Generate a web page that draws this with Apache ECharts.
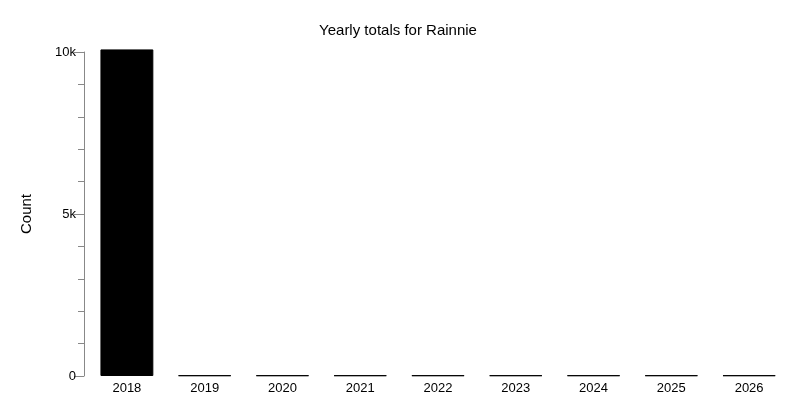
<!DOCTYPE html><html><head><meta charset="utf-8"><script src="https://cdn.jsdelivr.net/npm/echarts@6/dist/echarts.min.js"></script></head><body style="margin:0"><div id="c" style="width:796px;height:418px"></div><script>
const categories=['2018','2019','2020','2021','2022','2023','2024','2025','2026'];
const counts=[10080,20,20,20,20,20,20,20,20];
const yTicks=[0,5000,10000];
const chart=echarts.init(document.getElementById('c'));
chart.setOption({
 animation:false,
 title:{text:'Yearly totals for Rainnie',left:'center',top:18,textStyle:{fontFamily:'Liberation Sans',fontWeight:'normal',fontSize:15,color:'#000'}},
 grid:{left:88,right:8,top:52,bottom:42},
 xAxis:{type:'category',data:categories,axisLine:{show:false},axisTick:{show:false},axisLabel:{color:'#000',fontFamily:'Liberation Sans',fontSize:13,margin:6}},
 yAxis:{type:'value',min:0,max:10000,interval:5000,name:'Count',nameLocation:'middle',nameGap:50,nameTextStyle:{fontFamily:'Liberation Sans',fontSize:15,color:'#000'},
  offset:4,
  axisLine:{show:true,lineStyle:{color:'#888'}},axisTick:{show:true,length:10,lineStyle:{color:'#888'}},
  minorTick:{show:true,splitNumber:5,length:6,lineStyle:{color:'#888'}},
  splitLine:{show:false},
  axisLabel:{color:'#000',fontFamily:'Liberation Sans',fontSize:13,formatter:v=>yTicks.includes(v)?(v===0?'0':(v/1000)+'k'):''}},
 series:[{type:'bar',data:counts,clip:false,barCategoryGap:'32%',itemStyle:{color:'#000',borderColor:'#000',borderWidth:1}}]
});
</script></body></html>
